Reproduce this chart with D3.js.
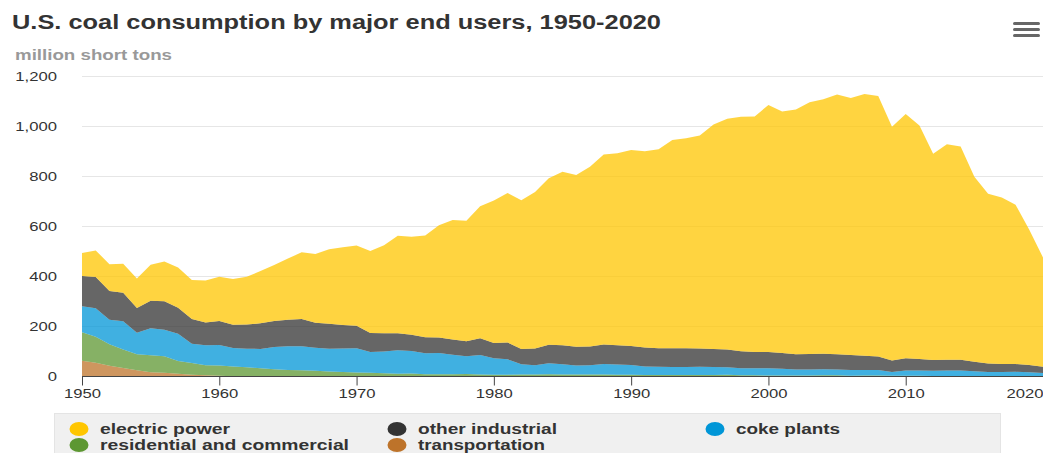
<!DOCTYPE html>
<html>
<head>
<meta charset="utf-8">
<script src="https://cdn.jsdelivr.net/npm/d3@7"></script>
<style>
  body { margin: 0; background: #fff; }
  svg { display: block; font-family: "Liberation Sans", Arial, sans-serif; }
</style>
</head>
<body>
<div id="chart"></div>
<script>
// years 1950-2020, million short tons
var years = d3.range(1950, 2021);

var electricPower = [
  91.9, 105.8, 107.1, 115.9, 118.4, 143.8, 158.3, 160.8, 155.7, 168.4,
  176.7, 182.2, 190.8, 209.0, 223.0, 244.8, 266.5, 274.2, 297.8, 310.6,
  320.2, 327.3, 351.8, 389.2, 391.8, 406.0, 448.4, 477.1, 481.2, 527.1,
  569.3, 596.8, 593.7, 625.2, 664.4, 693.8, 685.1, 717.9, 758.4, 766.9,
  782.6, 783.9, 795.1, 831.6, 838.4, 850.2, 896.9, 921.4, 936.6, 940.9,
  985.8, 964.4, 977.5, 1005.1, 1016.3, 1037.5, 1026.6, 1045.1, 1040.6, 933.6,
  975.1, 932.5, 823.6, 860.7, 851.6, 738.4, 677.9, 664.9, 636.2, 539.4,
  436.5
];
var otherIndustrial = [
  120.6, 125, 115, 114, 99, 110.1, 114, 104, 99, 91,
  96.0, 93, 96, 102, 104, 105.6, 108, 100, 99, 94,
  90.2, 75.6, 72.0, 68.0, 64.9, 63.6, 61.8, 61.5, 59.9, 67.7,
  60.3, 67.4, 61.0, 66.0, 73.7, 75.4, 75.6, 75.2, 77.8, 76.7,
  76.3, 75.4, 74.0, 74.9, 75.2, 73.1, 71.7, 71.5, 67.4, 64.7,
  65.2, 63.6, 60.7, 61.3, 62.2, 60.3, 59.5, 56.6, 54.4, 45.7,
  49.0, 46.2, 43.5, 43.4, 43.2, 37.6, 34.2, 32.4, 30.9, 28.9,
  25.0
];
var cokePlants = [
  104, 113.5, 97.6, 112.8, 85.4, 107.7, 105.9, 108.9, 76.6, 79.3,
  81.4, 73.9, 74.6, 77.6, 89.3, 95.3, 96.6, 92.3, 90.8, 93.4,
  96.5, 83.2, 87.7, 93.6, 90.2, 83.6, 84.7, 77.7, 71.4, 77.4,
  66.7, 61.0, 40.9, 37.0, 44.0, 41.1, 35.9, 37.0, 41.9, 40.5,
  38.9, 33.9, 32.4, 31.3, 31.7, 33.0, 31.7, 30.2, 28.2, 28.1,
  28.9, 26.1, 23.7, 24.2, 23.7, 23.4, 22.9, 22.7, 22.1, 15.3,
  21.1, 21.4, 20.8, 21.5, 21.5, 19.7, 16.5, 16.4, 17.8, 16.5,
  13.1
];
var residentialCommercial = [
  114, 104, 86, 74, 64, 68, 66, 51, 47, 40,
  41, 39, 36, 32, 28, 25, 24, 22, 20, 18,
  16.1, 14.5, 12.4, 11.1, 11.4, 9.4, 8.9, 9.0, 9.5, 8.1,
  6.5, 7.4, 8.2, 8.4, 9.2, 7.8, 7.7, 7.9, 8.3, 7.4,
  6.7, 6.1, 6.2, 6.2, 6.0, 5.8, 6.0, 6.5, 4.9, 4.9,
  4.1, 4.4, 4.4, 4.2, 5.1, 4.7, 3.2, 3.5, 3.5, 3.1,
  3.1, 2.7, 2.0, 2.2, 2.2, 1.6, 1.3, 1.1, 0.9, 0.8,
  0.7
];
var transportation = [
  63, 55, 43, 34, 25, 17, 15, 11, 7, 5,
  3, 1.0, 0.7, 0.7, 0.6, 0.7, 0.6, 0.5, 0.4, 0.3,
  0.3, 0.2, 0.2, 0.1, 0.1, 0, 0, 0, 0, 0,
  0, 0, 0, 0, 0, 0, 0, 0, 0, 0,
  0, 0, 0, 0, 0, 0, 0, 0, 0, 0,
  0, 0, 0, 0, 0, 0, 0, 0, 0, 0,
  0, 0, 0, 0, 0, 0, 0, 0, 0, 0,
  0
];

var seriesNames = ["electric power", "other industrial", "coke plants",
                   "residential and commercial", "transportation"];
var seriesColors = ["#ffc600", "#333333", "#0096d7", "#5d9732", "#bd732a"];
var xTicks = [1950, 1960, 1970, 1980, 1990, 2000, 2010, 2020];
var yTicks = [0, 200, 400, 600, 800, 1000, 1200];

var width = 1043, height = 453;
var stretch = 1.28;

// table for d3.stack
var table = years.map(function(yr, i) {
  return {
    year: yr,
    "electric power": electricPower[i],
    "other industrial": otherIndustrial[i],
    "coke plants": cokePlants[i],
    "residential and commercial": residentialCommercial[i],
    "transportation": transportation[i]
  };
});

var svg = d3.select("#chart").append("svg")
  .attr("width", width)
  .attr("height", height);

var x = d3.scaleLinear().domain([1950, 2020]).range([82, 1043]);
var y = d3.scaleLinear().domain([0, 1200]).range([376.5, 76]);

function fit(sel, w) {
  sel.attr("textLength", w).attr("lengthAdjust", "spacingAndGlyphs");
}
function widen(sel) {
  sel.each(function() {
    var w = this.getComputedTextLength();
    d3.select(this).attr("textLength", w * stretch).attr("lengthAdjust", "spacingAndGlyphs");
  });
}

// gridlines
svg.append("g").selectAll("line")
  .data(yTicks.filter(function(d) { return d > 0; }))
  .enter().append("line")
    .attr("x1", 82).attr("x2", width)
    .attr("y1", function(d) { return Math.round(y(d)) + 0.5; })
    .attr("y2", function(d) { return Math.round(y(d)) + 0.5; })
    .attr("stroke", "#e6e6e6");

// stacked areas, bottom first
var keys = seriesNames.slice().reverse();
var stack = d3.stack().keys(keys);
var layers = stack(table);

var area = d3.area()
  .x(function(d) { return x(d.data.year); })
  .y0(function(d) { return y(d[0]); })
  .y1(function(d) { return y(d[1]); });

svg.append("g").selectAll("path")
  .data(layers)
  .enter().append("path")
    .attr("d", area)
    .attr("fill", function(d) { return seriesColors[seriesNames.indexOf(d.key)]; })
    .attr("fill-opacity", 0.75);

// x axis
var xAxis = svg.append("g")
  .attr("transform", "translate(0,376.5)")
  .call(d3.axisBottom(x).tickValues(xTicks).tickFormat(d3.format("d"))
    .tickSize(9).tickSizeOuter(0).tickPadding(3));
xAxis.select(".domain").attr("stroke", "#444").attr("d", "M82,0H" + width);
xAxis.selectAll(".tick line").attr("stroke", "#444");
xAxis.selectAll("text")
  .attr("fill", "#333")
  .style("font-size", "13px")
  .call(widen);
// keep the last label inside the picture
xAxis.selectAll(".tick").each(function(d) {
  var t = d3.select(this).select("text");
  var w = +t.attr("textLength");
  var right = x(d) + w / 2;
  if (right > width) t.attr("x", width - right);
});

// y axis labels
var yAxis = svg.append("g")
  .attr("transform", "translate(82,0)")
  .call(d3.axisLeft(y).tickValues(yTicks).tickFormat(d3.format(",")).tickSize(0).tickPadding(25));
yAxis.select(".domain").remove();
yAxis.selectAll("text")
  .attr("fill", "#333")
  .style("font-size", "13px")
  .call(widen);

// title
svg.append("text")
  .attr("x", 12).attr("y", 29)
  .attr("fill", "#333")
  .style("font-size", "20px").style("font-weight", "bold")
  .text("U.S. coal consumption by major end users, 1950-2020")
  .call(fit, 649);

svg.append("text")
  .attr("x", 15).attr("y", 60)
  .attr("fill", "#999")
  .style("font-size", "15px").style("font-weight", "bold")
  .text("million short tons")
  .call(fit, 157);

// menu icon
svg.append("g").selectAll("rect")
  .data([0, 1, 2])
  .enter().append("rect")
    .attr("x", 1013).attr("y", function(d) { return 22 + d * 6; })
    .attr("width", 27).attr("height", 3).attr("rx", 1.5)
    .attr("fill", "#666");

// legend
svg.append("rect")
  .attr("x", 54.5).attr("y", 413.5)
  .attr("width", 946).attr("height", 60)
  .attr("fill", "#f0f0f0").attr("stroke", "#e4e4e4");

var legendPos = [
  {cx: 79, cy: 429, w: 130},
  {cx: 397, cy: 429, w: 139},
  {cx: 715, cy: 429, w: 104},
  {cx: 79, cy: 445, w: 249},
  {cx: 397, cy: 445, w: 127}
];

var item = svg.append("g").selectAll("g")
  .data(seriesNames)
  .enter().append("g");

item.append("ellipse")
  .attr("cx", function(d, i) { return legendPos[i].cx; })
  .attr("cy", function(d, i) { return legendPos[i].cy; })
  .attr("rx", 9.5).attr("ry", 7)
  .attr("fill", function(d, i) { return seriesColors[i]; });

item.append("text")
  .attr("x", function(d, i) { return legendPos[i].cx + 21; })
  .attr("y", function(d, i) { return legendPos[i].cy + 4.5; })
  .attr("fill", "#333")
  .style("font-size", "14px").style("font-weight", "bold")
  .text(function(d) { return d; })
  .each(function(d, i) { d3.select(this).call(fit, legendPos[i].w); });
</script>
</body>
</html>
